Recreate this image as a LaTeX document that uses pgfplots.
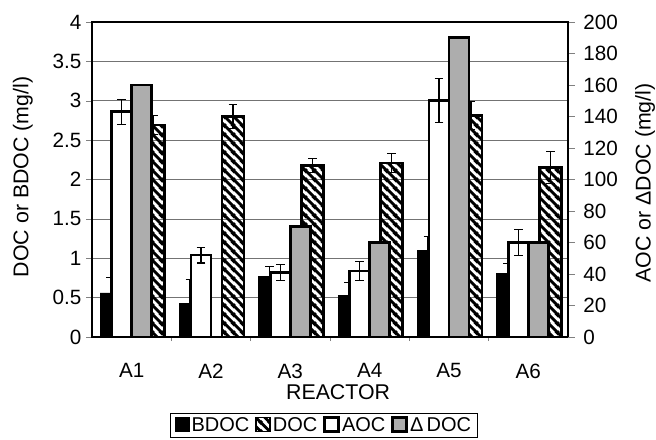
\documentclass[border=0pt]{standalone}
\usepackage{fontspec}
\setmainfont{Liberation Sans}
\usepackage{pgfplots}
\usepackage{pgfplotstable}
\pgfplotsset{compat=1.18}
\usetikzlibrary{patterns}

\pgfdeclarepatternformonly{thickhatch}{\pgfqpoint{0pt}{0pt}}{\pgfqpoint{6.75pt}{6.75pt}}{\pgfqpoint{6.75pt}{6.75pt}}{%
  \pgfsetlinewidth{2.3pt}%
  \pgfpathmoveto{\pgfqpoint{-1pt}{7.75pt}}\pgfpathlineto{\pgfqpoint{7.75pt}{-1pt}}%
  \pgfpathmoveto{\pgfqpoint{-2pt}{2pt}}\pgfpathlineto{\pgfqpoint{2pt}{-2pt}}%
  \pgfpathmoveto{\pgfqpoint{4.75pt}{8.75pt}}\pgfpathlineto{\pgfqpoint{8.75pt}{4.75pt}}%
  \pgfusepath{stroke}%
}

% left axis (mg/l)
\pgfplotstableread{
x y e
1 0.56 0.19
2 0.43 0.30
3 0.77 0.13
4 0.53 0.16
5 1.10 0.18
6 0.81 0.12
}\bdoc
\pgfplotstableread{
x y e
1 2.69 0.12
2 2.80 0.15
3 2.18 0.09
4 2.21 0.12
5 2.81 0.18
6 2.15 0.20
}\doc
% right axis
\pgfplotstableread{
x y e
1 143 8
2 52 5
3 41 5
4 42 6
5 150 14
6 60 8
}\aoc
\pgfplotstableread{
x y
1 160
3 70
4 60
5 190
6 60
}\ddoc

\newcommand{\lgf}{\fontsize{15}{17}\selectfont}

\pgfplotsset{
  sqlegend/.style={legend image code/.code={\draw[##1,/tikz/.cd,yshift=0pt] (0pt,-4.6pt) rectangle (10.5pt,5.9pt);}},
  errstyle/.style={error bars/.cd, y dir=#1, y explicit, error bar style={line width=0.8pt, black, solid},
     error mark options={rotate=90, mark size=3.2pt, line width=0.8pt, black}},
}

\begin{document}
\begin{tikzpicture}
\useasboundingbox (0,0) rectangle (492pt,329.25pt);
\begin{axis}[
  at={(69pt,76.5pt)}, anchor=south west,
  scale only axis, width=357pt, height=236.25pt,
  xmin=0.5, xmax=6.5, ymin=0, ymax=4,
  ybar,
  ytick={0,0.5,...,4}, ytick pos=left,
  tick align=outside, major tick length=4.5pt,
  ymajorgrids, grid style={black!55, line width=0.5pt},
  xtick={1,...,6}, xticklabels={A1,A2,A3,A4,A5,A6}, xtick pos=bottom,
  major x tick style={draw=none},
  minor xtick={1.5,2.5,3.5,4.5,5.5}, minor tick length=3pt,
  minor x tick style={black!50, line width=0.5pt},
  axis line style={line width=1pt},
  /pgf/number format/assume math mode=true,
  ticklabel style={font=\fontsize{15.5}{18}\selectfont},
  xticklabel style={yshift=-12pt},
  label style={font=\fontsize{16}{19}\selectfont},
  xlabel=REACTOR, ylabel={DOC or BDOC (mg/l)},
  xlabel style={at={(axis description cs:0.517,-0.175)}, anchor=center},
  ylabel style={at={(axis description cs:-0.145,0.508)}, anchor=center},
]
\addplot[fill=black, draw=black, line width=0.5pt, bar width=15.75pt, bar shift=-15.75pt,
  errstyle=plus] table[x=x, y=y, y error=e] {\bdoc};
\addplot[pattern=thickhatch, draw=black, line width=2pt, bar width=16.5pt, bar shift=16.5pt,
  errstyle=both] table[x=x, y=y, y error=e] {\doc};
\end{axis}

\begin{axis}[
  at={(69pt,76.5pt)}, anchor=south west,
  scale only axis, width=357pt, height=236.25pt,
  xmin=0.5, xmax=6.5, ymin=0, ymax=200,
  ybar,
  axis y line*=right, axis x line=none,
  ytick={0,20,...,200},
  tick align=outside, major tick length=5pt,
  axis line style={line width=1pt},
  /pgf/number format/assume math mode=true,
  ticklabel style={font=\fontsize{15.5}{18}\selectfont},
  yticklabel style={xshift=3pt},
  label style={font=\fontsize{16}{19}\selectfont},
  ylabel={AOC or ΔDOC (mg/l)},
  ylabel style={at={(axis description cs:1.162,0.489)}, anchor=center, rotate=0},
  legend style={at={(axis description cs:0.4874,-0.241)}, anchor=north,
    draw=black, line width=0.6pt, inner xsep=3pt, inner ysep=1pt,
    nodes={font=\lgf, inner xsep=1.5pt, inner ysep=2pt},
    /tikz/every odd column/.append style={column sep=0pt},
    /tikz/every even column/.append style={column sep=3pt}},
  legend columns=4,
]
\addlegendimage{sqlegend, fill=black, draw=black, line width=0.5pt}
\addlegendimage{sqlegend, pattern=thickhatch, draw=black, line width=1.2pt}
\addplot[sqlegend, fill=white, draw=black, line width=2pt, bar width=15pt, bar shift=-7.5pt,
  errstyle=both] table[x=x, y=y, y error=e] {\aoc};
\addplot[sqlegend, fill=black!32, draw=black, line width=2pt, bar width=15pt, bar shift=7.5pt]
  table[x=x, y=y] {\ddoc};
\legend{\lgf BDOC, \lgf DOC, \lgf AOC, \lgf Δ\,DOC}
\end{axis}
\end{tikzpicture}
\end{document}
